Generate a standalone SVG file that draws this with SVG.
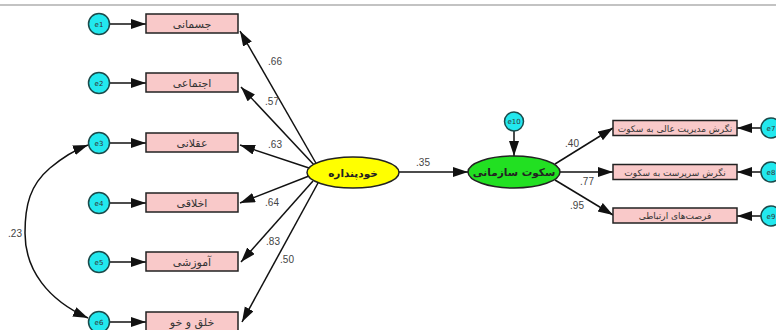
<svg xmlns="http://www.w3.org/2000/svg" width="776" height="330" viewBox="0 0 776 330">
<style>
.box{fill:#f9c9c9;stroke:#222;stroke-width:1.5}
.err{fill:#22e8ee;stroke:#1b4a4a;stroke-width:1.5}
.et{font-family:"DejaVu Sans",sans-serif;font-size:7px;fill:#333;text-anchor:middle}
.bt{font-family:"DejaVu Sans",sans-serif;font-size:11px;fill:#333;text-anchor:middle}
.rt{font-family:"DejaVu Sans",sans-serif;font-size:9px;fill:#333;text-anchor:middle}
.lt{font-family:"DejaVu Sans",sans-serif;font-size:10.5px;font-weight:bold;fill:#222;text-anchor:middle}
.num{font-family:"Liberation Sans",sans-serif;font-size:10px;fill:#444;text-anchor:middle}
.ln{stroke:#111;stroke-width:1.5;fill:none;marker-end:url(#ah)}
</style>
<defs>
<marker id="ah" markerUnits="userSpaceOnUse" markerWidth="16" markerHeight="11" refX="15" refY="5" orient="auto">
<path d="M0,0 L15,5 L0,10 z" fill="#111"/>
</marker>
</defs>
<rect width="776" height="330" fill="#fff"/>
<line x1="0" y1="5" x2="776" y2="5" stroke="#888" stroke-width="1.2"/>
<g id="connectors">
<line class="ln" x1="110" y1="24" x2="146" y2="24"/>
<line class="ln" x1="110" y1="83" x2="146" y2="83"/>
<line class="ln" x1="110" y1="143" x2="146" y2="143"/>
<line class="ln" x1="110" y1="203" x2="146" y2="203"/>
<line class="ln" x1="110" y1="262" x2="146" y2="262"/>
<line class="ln" x1="110" y1="322" x2="146" y2="322"/>
<line class="ln" x1="317" y1="165" x2="240" y2="31"/>
<line class="ln" x1="316" y1="167" x2="241" y2="87"/>
<line class="ln" x1="309" y1="168" x2="240" y2="145"/>
<line class="ln" x1="309" y1="176" x2="240" y2="203"/>
<line class="ln" x1="313" y1="181" x2="241" y2="262"/>
<line class="ln" x1="318" y1="183" x2="242" y2="322"/>
<line class="ln" x1="399" y1="172" x2="468" y2="172"/>
<line class="ln" x1="514" y1="131" x2="514" y2="156"/>
<line class="ln" x1="555" y1="164" x2="613" y2="128"/>
<line class="ln" x1="560" y1="172" x2="613" y2="172"/>
<line class="ln" x1="555" y1="180" x2="613" y2="215"/>
<line class="ln" x1="761" y1="128" x2="737" y2="128"/>
<line class="ln" x1="761" y1="172" x2="737" y2="172"/>
<line class="ln" x1="761" y1="216" x2="737" y2="216"/>
<path d="M50,168 C30,185 25,205 25,233 C25,270 48,300 88,318" stroke="#111" stroke-width="1.5" fill="none" marker-end="url(#ah)"/>
<path d="M50,168 C62,158 72,151 88,145" stroke="#111" stroke-width="1.5" fill="none" marker-end="url(#ah)"/>
<text class="num" x="275" y="65">.66</text>
<text class="num" x="272" y="105">.57</text>
<text class="num" x="275" y="148">.63</text>
<text class="num" x="272" y="206">.64</text>
<text class="num" x="273" y="245">.83</text>
<text class="num" x="287" y="263">.50</text>
<text class="num" x="423" y="166">.35</text>
<text class="num" x="572" y="147">.40</text>
<text class="num" x="587" y="185">.77</text>
<text class="num" x="577" y="209">.95</text>
<text class="num" x="15" y="237">.23</text>
</g>
<g id="e1"><circle class="err" cx="99" cy="24" r="10.5"/><text class="et" x="99" y="26.5">e1</text></g>
<g id="e2"><circle class="err" cx="99" cy="83" r="10.5"/><text class="et" x="99" y="85.5">e2</text></g>
<g id="e3"><circle class="err" cx="99" cy="143" r="10.5"/><text class="et" x="99" y="145.5">e3</text></g>
<g id="e4"><circle class="err" cx="99" cy="203" r="10.5"/><text class="et" x="99" y="205.5">e4</text></g>
<g id="e5"><circle class="err" cx="99" cy="262" r="10.5"/><text class="et" x="99" y="264.5">e5</text></g>
<g id="e6"><circle class="err" cx="99" cy="322" r="10.5"/><text class="et" x="99" y="324.5">e6</text></g>
<g id="n1"><rect class="box" x="146" y="14" width="92" height="19"/><text class="bt" x="192" y="28">جسمانی</text></g>
<g id="n2"><rect class="box" x="146" y="73" width="92" height="19"/><text class="bt" x="192" y="87">اجتماعی</text></g>
<g id="n3"><rect class="box" x="146" y="133" width="92" height="19"/><text class="bt" x="192" y="147">عقلانی</text></g>
<g id="n4"><rect class="box" x="146" y="193" width="92" height="19"/><text class="bt" x="192" y="207">اخلاقی</text></g>
<g id="n5"><rect class="box" x="146" y="252" width="92" height="19"/><text class="bt" x="192" y="266">آموزشی</text></g>
<g id="n6"><rect class="box" x="146" y="312" width="92" height="19"/><text class="bt" x="192" y="326">خلق و خو</text></g>
<g id="selfconcept"><ellipse cx="353" cy="172.5" rx="46" ry="15.5" fill="#ffff00" stroke="#222" stroke-width="1.5"/><text class="lt" x="353" y="176.5">خودپنداره</text></g>
<g id="silence"><ellipse cx="514" cy="172" rx="46" ry="16" fill="#22e022" stroke="#222" stroke-width="1.5"/><text class="lt" x="514" y="176">سکوت سازمانی</text></g>
<g id="e10"><circle class="err" cx="514" cy="121.5" r="9.5"/><text class="et" x="514" y="124">e10</text></g>
<g id="r1"><rect class="box" x="613" y="120.5" width="124" height="15"/><text class="rt" x="675" y="131.5">نگرش مدیریت عالی به سکوت</text></g>
<g id="r2"><rect class="box" x="613" y="164.5" width="124" height="15"/><text class="rt" x="675" y="175.5">نگرش سرپرست به سکوت</text></g>
<g id="r3"><rect class="box" x="613" y="208" width="124" height="15"/><text class="rt" x="675" y="219">فرصت‌های ارتباطی</text></g>
<g id="e7"><circle class="err" cx="771" cy="128" r="10"/><text class="et" x="771" y="130.5">e7</text></g>
<g id="e8"><circle class="err" cx="771" cy="172" r="10"/><text class="et" x="771" y="174.5">e8</text></g>
<g id="e9"><circle class="err" cx="771" cy="216" r="10"/><text class="et" x="771" y="218.5">e9</text></g>
</svg>
